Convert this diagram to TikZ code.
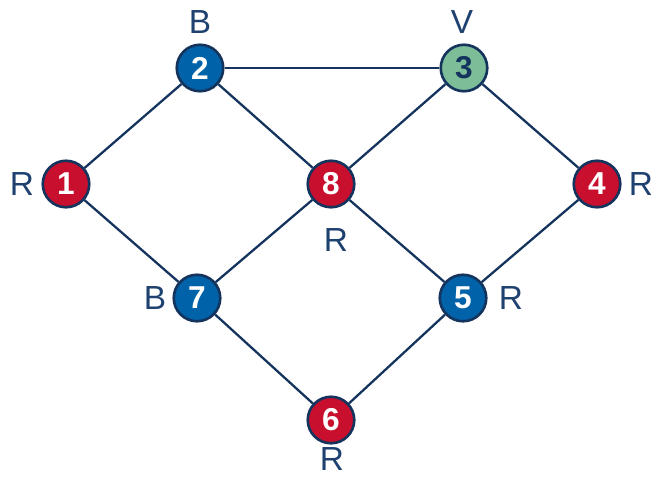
\documentclass[tikz,border=0pt]{standalone}
\usepackage{fontspec}
\setmainfont{Liberation Sans}
\definecolor{navy}{HTML}{14345E}
\definecolor{cblue}{HTML}{0062A8}
\definecolor{cred}{HTML}{C8102E}
\definecolor{cgreen}{HTML}{7DBE98}
\definecolor{lab}{HTML}{1F4170}
\begin{document}
\begin{tikzpicture}[x=0.02cm,y=-0.02cm,
  vtx/.style={circle,draw=navy,line width=1.5pt,minimum size=0.93cm,inner sep=0pt,
    font=\fontsize{18}{18}\selectfont\bfseries,text=white},
  bluev/.style={vtx,fill=cblue},
  redv/.style={vtx,fill=cred},
  greenv/.style={vtx,fill=cgreen,text=navy},
  lbl/.style={text=lab,font=\fontsize{19}{19}\selectfont,inner sep=0pt},
  edge/.style={draw=navy,line width=1.3pt}]
\useasboundingbox (0,0) rectangle (651,477);
\node[bluev] (n2) at (200,68) {2};
\node[greenv] (n3) at (464,68) {3};
\node[redv] (n1) at (66,184) {1};
\node[redv] (n8) at (331,184) {8};
\node[redv] (n4) at (597,184) {4};
\node[bluev] (n7) at (197,298) {7};
\node[bluev] (n5) at (463,298) {5};
\node[redv] (n6) at (331,420) {6};
\foreach \a/\b in {n2/n3,n2/n1,n2/n8,n3/n8,n3/n4,n1/n7,n8/n7,n8/n5,n4/n5,n7/n6,n5/n6}
  \draw[edge] (\a) -- (\b);
\node[lbl] (l2) at (200,22) {B};
\node[lbl] (l3) at (462,22) {V};
\node[lbl] (l1) at (22,184) {R};
\node[lbl] (l8) at (336,240) {R};
\node[lbl] (l4) at (641,184) {R};
\node[lbl] (l7) at (155,298) {B};
\node[lbl] (l5) at (511,298) {R};
\node[lbl] (l6) at (332,459) {R};
\end{tikzpicture}
\end{document}
